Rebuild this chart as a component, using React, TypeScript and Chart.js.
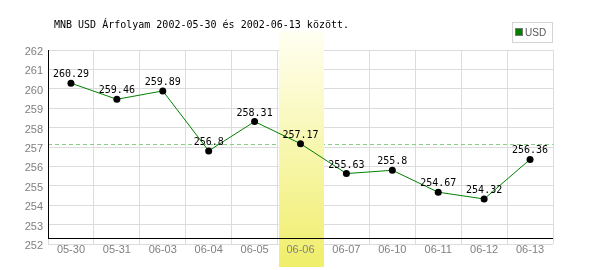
import React, { useEffect, useRef } from 'react';
import { Chart, registerables } from 'chart.js';

Chart.register(...registerables);

const TITLE = 'MNB USD Árfolyam 2002-05-30 és 2002-06-13 között.';
const LEGEND_LABEL = 'USD';
const CATEGORIES = ['05-30', '05-31', '06-03', '06-04', '06-05', '06-06', '06-07', '06-10', '06-11', '06-12', '06-13'];
const USD_RATES = [260.29, 259.46, 259.89, 256.8, 258.31, 257.17, 255.63, 255.8, 254.67, 254.32, 256.36];
const VALUE_LABELS = ['260.29', '259.46', '259.89', '256.8', '258.31', '257.17', '255.63', '255.8', '254.67', '254.32', '256.36'];
const AVERAGE_RATE = 257.16;
const HIGHLIGHT_CATEGORY = '06-06';
const Y_MIN = 252;
const Y_MAX = 262;
const Y_STEP = 1;

const MONO = '"DejaVu Sans Mono", monospace';
const SANS = '"Liberation Sans", Arial, sans-serif';

const decorPlugin = {
  id: 'decor',
  beforeDatasetsDraw(chart: any) {
    const { ctx, chartArea } = chart;
    const x = chart.scales.x;
    const y = chart.scales.y;
    ctx.save();
    // average dashed line
    const ay = Math.round(y.getPixelForValue(AVERAGE_RATE)) + 0.5;
    ctx.strokeStyle = '#88cc88';
    ctx.lineWidth = 1;
    ctx.setLineDash([4, 3]);
    ctx.beginPath();
    ctx.moveTo(chartArea.left, ay);
    ctx.lineTo(chartArea.right, ay);
    ctx.stroke();
    ctx.setLineDash([]);
    // highlight column
    const idx = CATEGORIES.indexOf(HIGHLIGHT_CATEGORY);
    const cx = x.getPixelForValue(idx);
    const half = (x.getPixelForValue(1) - x.getPixelForValue(0)) / 2;
    const top = chartArea.top - 19;
    const bottom = chartArea.bottom + 23;
    const g = ctx.createLinearGradient(0, top, 0, bottom);
    g.addColorStop(0, '#fffff2');
    g.addColorStop(1, '#f0ee6a');
    ctx.fillStyle = g;
    ctx.fillRect(Math.round(cx - half) + 1, top, Math.round(2 * half) - 1, bottom - top);
    // black axis lines
    const axisY = Math.round(chartArea.bottom - 6) + 0.5;
    ctx.strokeStyle = '#000';
    ctx.beginPath();
    ctx.moveTo(chartArea.left, axisY);
    ctx.lineTo(chartArea.right, axisY);
    ctx.moveTo(Math.round(chartArea.left) + 0.5, chartArea.top);
    ctx.lineTo(Math.round(chartArea.left) + 0.5, axisY);
    ctx.stroke();
    ctx.restore();
  },
  afterDatasetsDraw(chart: any) {
    const { ctx } = chart;
    const x = chart.scales.x;
    const y = chart.scales.y;
    ctx.save();
    ctx.font = '10px ' + MONO;
    ctx.fillStyle = '#000';
    ctx.textAlign = 'center';
    ctx.textBaseline = 'alphabetic';
    USD_RATES.forEach((v, i) => {
      ctx.fillText(VALUE_LABELS[i], x.getPixelForValue(i), y.getPixelForValue(v) - 6);
    });
    ctx.restore();
  },
  afterDraw(chart: any) {
    const { ctx, chartArea } = chart;
    ctx.save();
    // title
    ctx.font = '10px ' + MONO;
    ctx.fillStyle = '#000';
    ctx.textAlign = 'left';
    ctx.textBaseline = 'middle';
    ctx.fillText(TITLE, 54, 25);
    // legend
    const lx = chartArea.right - 41;
    ctx.fillStyle = '#fff';
    ctx.fillRect(lx, 22, 40, 20);
    ctx.strokeStyle = '#d4d4d4';
    ctx.lineWidth = 1;
    ctx.strokeRect(lx + 0.5, 22.5, 40, 20);
    ctx.fillStyle = '#008000';
    ctx.fillRect(lx + 4, 29, 6, 6);
    ctx.strokeStyle = '#777';
    ctx.strokeRect(lx + 3.5, 28.5, 7, 7);
    ctx.font = '10px ' + SANS;
    ctx.fillStyle = '#555';
    ctx.textBaseline = 'middle';
    ctx.fillText(LEGEND_LABEL, lx + 13, 33);
    ctx.restore();
  },
};

export default function App() {
  const ref = useRef<HTMLCanvasElement>(null);
  useEffect(() => {
    document.body.style.margin = '0';
    const chart = new Chart(ref.current as HTMLCanvasElement, {
      type: 'line',
      data: {
        labels: CATEGORIES,
        datasets: [
          {
            label: LEGEND_LABEL,
            data: USD_RATES,
            borderColor: '#008000',
            borderWidth: 1,
            pointBackgroundColor: '#000',
            pointBorderColor: '#000',
            pointRadius: 3.5,
            pointBorderWidth: 0,
            tension: 0,
            fill: false,
          },
        ],
      },
      options: {
        responsive: false,
        animation: false,
        devicePixelRatio: 1,
        layout: { padding: { top: 50, right: 47, bottom: 0, left: 0 } },
        plugins: { legend: { display: false }, title: { display: false }, tooltip: { enabled: false } },
        scales: {
          x: {
            type: 'category',
            offset: true,
            grid: { offset: true, color: '#dcdcdc', drawTicks: false, z: -1 },
            border: { display: false },
            ticks: {
              z: 1,
              color: '#808080',
              font: { family: SANS, size: 11 },
              padding: -1,
              maxRotation: 0,
              autoSkip: false,
            },
            afterFit: (s: any) => {
              s.height = 26;
            },
          },
          y: {
            min: Y_MIN,
            max: Y_MAX,
            grid: { color: '#dcdcdc', drawTicks: false },
            border: { display: false },
            ticks: {
              stepSize: Y_STEP,
              color: '#808080',
              font: { family: SANS, size: 11 },
              padding: 5,
              labelOffset: 2,
            },
            afterFit: (s: any) => {
              s.width = 48;
            },
          },
        },
      },
      plugins: [decorPlugin],
    } as any);
    return () => chart.destroy();
  }, []);
  return (
    <div style={{ position: 'absolute', left: 0, top: 0 }}>
      <canvas ref={ref} width={600} height={270} style={{ display: 'block' }} />
    </div>
  );
}
